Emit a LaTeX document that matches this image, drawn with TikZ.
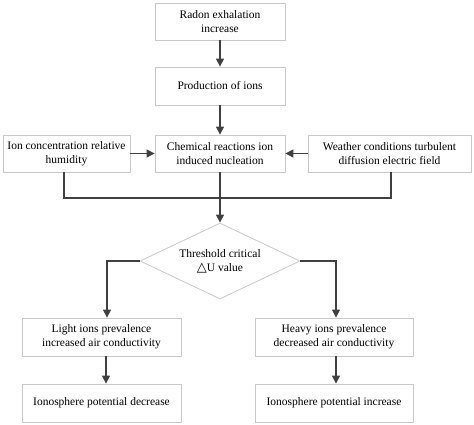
\documentclass[tikz,border=0pt]{standalone}
\usepackage{fontspec}
\setmainfont{Liberation Serif}
\newfontfamily\symfont{DejaVu Sans}
\usetikzlibrary{shapes.geometric,arrows.meta}
\definecolor{boxgray}{HTML}{C8C8C8}
\definecolor{arrgray}{HTML}{404040}
\begin{document}
\begin{tikzpicture}[x=1pt,y=-1pt,
  txt/.style={font=\fontsize{11.5}{14}\selectfont},
  box/.style={draw=boxgray,line width=0.8pt,fill=white,inner sep=0pt,align=center,txt},
  conn/.style={draw=arrgray,line width=1.2pt},
  arr/.style={conn,-{Triangle[length=8pt,width=8pt]}}]
\useasboundingbox (0,0) rectangle (474,425);
\node[box,minimum width=130pt,minimum height=37pt] (radon) at (220,21.5) {Radon exhalation\\increase};
\node[box,minimum width=130pt,minimum height=38pt] (prod) at (220,86) {Production of ions};
\node[box,minimum width=130pt,minimum height=37pt] (chem) at (220,153.5) {Chemical reactions ion\\induced nucleation};
\node[box,minimum width=127pt,minimum height=37pt] (ionc) at (66.5,153.5) {Ion concentration relative\\humidity};
\node[box,minimum width=163pt,minimum height=37pt] (weather) at (389.5,153.5) {Weather conditions turbulent\\diffusion electric field};
\node[box,diamond,aspect=2.1,minimum width=160pt,minimum height=76pt,inner sep=0pt] (thr) at (220,261) {};
\node[txt,align=center] (thrtext) at (220,261) {Threshold critical\\{\symfont\fontsize{13}{14}\selectfont △}U value};
\node[box,minimum width=159pt,minimum height=38pt] (light) at (101.5,337) {Light ions prevalence\\increased air conductivity};
\node[box,minimum width=158pt,minimum height=38pt] (heavy) at (334,337) {Heavy ions prevalence\\decreased air conductivity};
\node[box,minimum width=159pt,minimum height=38pt] (dec) at (101.5,403) {Ionosphere potential decrease};
\node[box,minimum width=158pt,minimum height=38pt] (inc) at (334,403) {Ionosphere potential increase};
\coordinate (join) at (220,198);
\draw[arr] (radon) -- (prod);
\draw[arr] (prod) -- (chem);
\draw[arr] (ionc) -- (chem);
\draw[arr] (weather) -- (chem);
\draw[conn] (ionc.south -| 64,0) |- (join);
\draw[conn] (weather.south -| 391,0) |- (join);
\draw[conn] (chem) -- (join);
\draw[arr] (join) -- (thr.north);
\draw[arr] (thr.west) -| (107,0 |- light.north);
\draw[arr] (thr.east) -| (336,0 |- heavy.north);
\draw[arr] (light.south -| 106,0) -- (dec.north -| 106,0);
\draw[arr] (heavy.south -| 336,0) -- (inc.north -| 336,0);
\end{tikzpicture}
\end{document}
